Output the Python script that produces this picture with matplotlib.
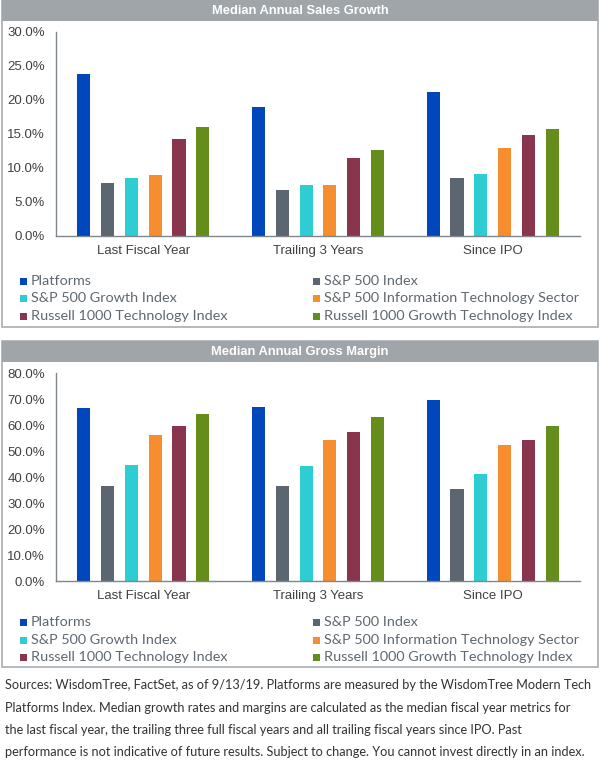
import matplotlib
matplotlib.use('Agg')
import matplotlib.pyplot as plt
from matplotlib.patches import Rectangle
from matplotlib.ticker import FuncFormatter
import numpy as np

categories = ['Last Fiscal Year', 'Trailing 3 Years', 'Since IPO']
series = ['Platforms', 'S&P 500 Index', 'S&P 500 Growth Index',
          'S&P 500 Information Technology Sector',
          'Russell 1000 Technology Index', 'Russell 1000 Growth Technology Index']
colors = ['#0047BB', '#5B6670', '#2ECCD3', '#F68D2E', '#8A354E', '#658D1B']

# values in %, one list per series, order = categories
sales_growth = [
    [23.8, 19.0, 21.2],
    [7.8, 6.7, 8.6],
    [8.5, 7.45, 9.1],
    [9.0, 7.45, 13.0],
    [14.2, 11.4, 14.8],
    [16.1, 12.7, 15.8],
]
gross_margin = [
    [66.4, 66.8, 69.5],
    [36.5, 36.5, 35.3],
    [44.5, 44.2, 41.0],
    [56.2, 54.1, 52.2],
    [59.5, 57.2, 54.1],
    [64.1, 62.9, 59.5],
]

source_lines = [
    'Sources: WisdomTree, FactSet, as of 9/13/19. Platforms are measured by the WisdomTree Modern Tech',
    'Platforms Index. Median growth rates and margins are calculated as the median fiscal year metrics for',
    'the last fiscal year, the trailing three full fiscal years and all trailing fiscal years since IPO. Past',
    'performance is not indicative of future results. Subject to change. You cannot invest directly in an index.',
]

W, H = 600, 764
fig = plt.figure(figsize=(W / 100, H / 100), dpi=100)


def fx(x):
    return x / W


def fy(y):
    return 1 - y / H


def panel(top, bottom, title, data, ymax, ystep, ax_top, ax_bot, cat_y, leg_y):
    # outer box and title bar
    fig.patches.append(Rectangle((fx(1.5), fy(bottom)), fx(596), (bottom - top) / H,
                                 transform=fig.transFigure, fill=False,
                                 edgecolor='#A8ADB2', linewidth=1.2))
    fig.patches.append(Rectangle((fx(1.5), fy(top + 21)), fx(596), 21 / H,
                                 transform=fig.transFigure, facecolor='#A0A5AA',
                                 edgecolor='none'))
    fig.text(fx(300), fy(top + 11), title, color='white', fontsize=9.3,
             fontweight='bold', family='Liberation Sans', ha='center', va='center')

    ax = fig.add_axes([fx(56), fy(ax_bot), fx(524), (ax_bot - ax_top) / H])
    x = np.arange(len(categories))
    pitch = 0.136
    for i, vals in enumerate(data):
        ax.bar(x + (i - 2.5) * pitch, vals, width=0.075, color=colors[i])
    ax.set_xlim(-0.5, 2.5)
    ax.set_ylim(0, ymax)
    ax.set_yticks(np.arange(0, ymax + 0.01, ystep))
    ax.yaxis.set_major_formatter(FuncFormatter(lambda v, p: '%.1f%%' % v))
    ax.set_xticks([])
    for s in ['top', 'right']:
        ax.spines[s].set_visible(False)
    for s in ['left', 'bottom']:
        ax.spines[s].set_color('#7F868C')
        ax.spines[s].set_linewidth(1.0)
    ax.tick_params(axis='y', length=0, pad=8, labelsize=9.5, labelcolor='#404040')
    for lab in ax.get_yticklabels():
        lab.set_family('Liberation Sans')
    cy = -(cat_y - ax_bot) / (ax_bot - ax_top)
    for i, c in enumerate(categories):
        ax.text(x[i], cy, c, transform=ax.get_xaxis_transform(), ha='center', va='center',
                fontsize=9.5, color='#404040', family='Liberation Sans')

    # legend, two columns
    for i, name in enumerate(series):
        row, col = i // 2, i % 2
        lx = 20 if col == 0 else 313
        ly = leg_y[row]
        fig.patches.append(Rectangle((fx(lx), fy(ly + 4)), fx(7), 7 / H,
                                     transform=fig.transFigure, facecolor=colors[i],
                                     edgecolor='none'))
        fig.text(fx(lx + 11), fy(ly), name, fontsize=10.4, color='#5F6770',
                 family='Lato', ha='left', va='center')
    return ax


panel(0, 327, 'Median Annual Sales Growth', sales_growth, 30, 5,
      32, 236, 251, [281, 298, 316])
panel(341, 667, 'Median Annual Gross Margin', gross_margin, 80, 10,
      373, 581, 596, [622, 640, 657])

for i, line in enumerate(source_lines):
    fig.text(fx(5), fy(685 + i * 22.5), line, fontsize=9.2, color='#333333',
             family='Lato', ha='left', va='center')

fig.savefig('out.png', dpi=100)
